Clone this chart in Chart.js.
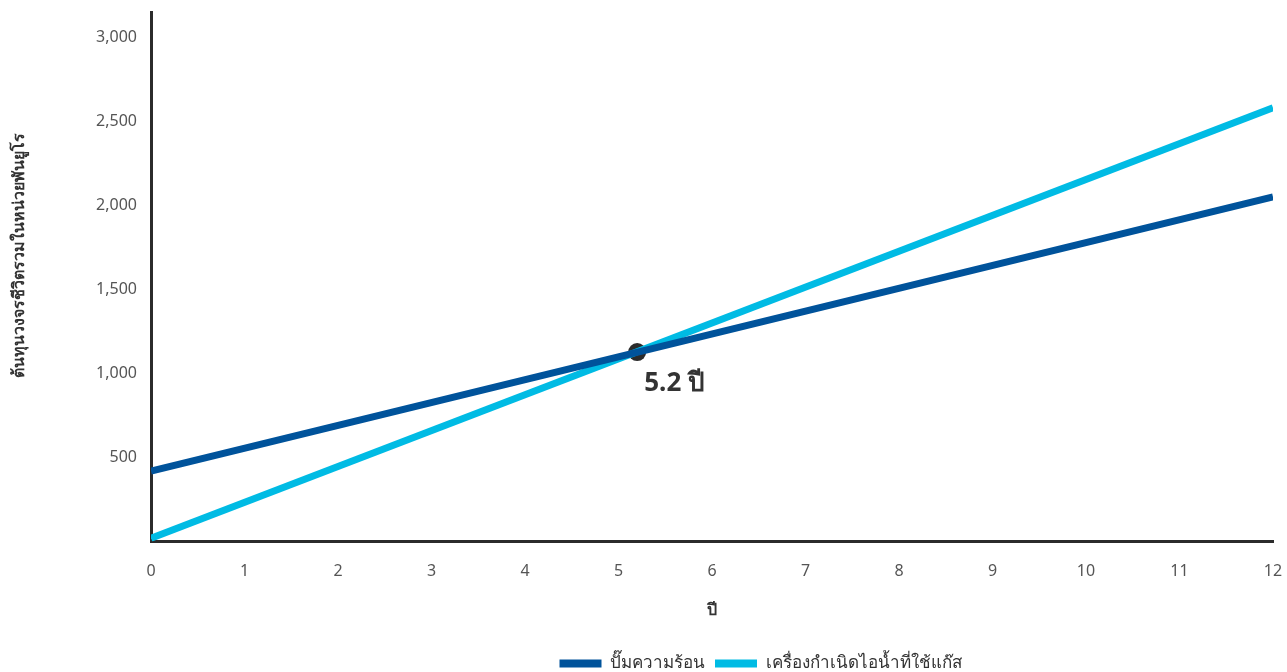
<!DOCTYPE html>
<html lang="th">
<head>
<meta charset="utf-8">
<title>ต้นทุนวงจรชีวิตรวม</title>
<script src="https://cdn.jsdelivr.net/npm/chart.js@4.4.1/dist/chart.umd.min.js"></script>
<style>
  html, body { margin: 0; padding: 0; background: #ffffff; }
  #wrap { width: 1287px; height: 672px; position: relative; }
</style>
</head>
<body>
<div id="wrap"><canvas id="chart"></canvas></div>
<script>
// Years shown on the horizontal axis
const years = [0, 12];
// Total life-cycle cost (thousand EUR) at the start and end of the period
const heatPumpCost = [420, 2050];
const gasBoilerCost = [20, 2580];
// Break-even point between the two systems
const breakEvenYear = 5.2;
const breakEvenCost = 1127;
const breakEvenLabel = '5.2 ปี';
// Tick values on the cost axis
const costTicks = [500, 1000, 1500, 2000, 2500, 3000];

const seriesNames = ['ปั๊มความร้อน', 'เครื่องกำเนิดไอน้ำที่ใช้แก๊ส'];
const axisTitles = { x: 'ปี', y: 'ต้นทุนวงจรชีวิตรวมในหน่วยพันยูโร' };

const FONT = "'Noto Sans', 'Open Sans', sans-serif";

const toPoints = (xs, ys) => xs.map((x, i) => ({ x, y: ys[i] }));

// Writes the break-even caption below-right of the marker
const breakEvenCaption = {
  id: 'breakEvenCaption',
  afterDatasetsDraw(chart) {
    const pt = chart.getDatasetMeta(2).data[0];
    if (!pt) return;
    const ctx = chart.ctx;
    ctx.save();
    ctx.font = "bold 26px " + FONT;
    ctx.fillStyle = '#333333';
    ctx.textAlign = 'left';
    ctx.textBaseline = 'middle';
    ctx.fillText(breakEvenLabel, pt.x + 7, pt.y + 31);
    ctx.restore();
  }
};

// Vertical cost-axis title, placed in the left margin
const costAxisTitle = {
  id: 'costAxisTitle',
  afterDraw(chart) {
    const ctx = chart.ctx;
    const area = chart.chartArea;
    ctx.save();
    ctx.translate(19, area.top + (area.bottom - area.top) * 0.459);
    ctx.rotate(-Math.PI / 2);
    ctx.font = "bold 16px " + FONT;
    ctx.fillStyle = '#333333';
    ctx.textAlign = 'center';
    ctx.textBaseline = 'middle';
    ctx.fillText(axisTitles.y, 0, 0);
    ctx.restore();
  }
};

// Moves the legend row right and down so it sits under the right part of the plot
const legendShift = {
  id: 'legendShift',
  afterLayout(chart) {
    const lg = chart.legend;
    if (!lg) return;
    const dx = 124, dy = 10;
    lg.left += dx;
    lg.right += dx;
    lg.top += dy;
    lg.bottom += dy;
  }
};

new Chart(document.getElementById('chart'), {
  type: 'line',
  data: {
    datasets: [
      {
        label: seriesNames[0],
        data: toPoints(years, heatPumpCost),
        borderColor: '#00539b',
        backgroundColor: '#00539b',
        borderWidth: 7,
        pointRadius: 0,
        borderCapStyle: 'butt'
      },
      {
        label: seriesNames[1],
        data: toPoints(years, gasBoilerCost),
        borderColor: '#00bbe4',
        backgroundColor: '#00bbe4',
        borderWidth: 7,
        pointRadius: 0,
        borderCapStyle: 'butt'
      },
      {
        label: 'break-even',
        data: [{ x: breakEvenYear, y: breakEvenCost }],
        showLine: false,
        pointRadius: 9,
        pointBackgroundColor: '#2b2b2b',
        pointBorderColor: '#2b2b2b',
        pointBorderWidth: 0
      }
    ]
  },
  options: {
    responsive: true,
    maintainAspectRatio: false,
    animation: false,
    layout: { padding: { top: 12, right: 14, left: 0, bottom: 0 } },
    plugins: {
      legend: {
        position: 'bottom',
        labels: {
          boxWidth: 42,
          boxHeight: 8,
          padding: 10,
          color: '#333333',
          font: { family: FONT, size: 17 },
          generateLabels: (chart) => chart.data.datasets.slice(0, 2).map((ds, i) => ({
            text: ds.label,
            fillStyle: ds.borderColor,
            strokeStyle: ds.borderColor,
            lineWidth: 0,
            fontColor: '#333333',
            hidden: false,
            datasetIndex: i
          }))
        }
      },
      tooltip: { enabled: false }
    },
    scales: {
      x: {
        type: 'linear',
        min: 0,
        max: 12,
        afterFit: (scale) => {
          scale.paddingLeft = 0;
          scale.paddingRight = 0;
        },
        ticks: {
          stepSize: 1,
          padding: 20,
          color: '#555555',
          font: { family: FONT, size: 16 }
        },
        grid: { display: false, drawTicks: false },
        border: { display: true, color: '#2b2b2b', width: 3 },
        title: {
          display: true,
          text: axisTitles.x,
          color: '#333333',
          font: { family: FONT, size: 16, weight: 'bold' },
          padding: { top: 0, bottom: 15 }
        }
      },
      y: {
        type: 'linear',
        min: 0,
        max: 3150,
        afterBuildTicks: (scale) => {
          scale.ticks = costTicks.map(v => ({ value: v }));
        },
        afterFit: (scale) => {
          scale.width = 151;
          scale.paddingTop = 0;
          scale.paddingBottom = 0;
        },
        ticks: {
          padding: 14,
          color: '#555555',
          font: { family: FONT, size: 16 },
          callback: (v) => Number(v).toLocaleString('en-US')
        },
        grid: { display: false, drawTicks: false },
        border: { display: true, color: '#2b2b2b', width: 3 },
        title: { display: false }
      }
    }
  },
  plugins: [breakEvenCaption, costAxisTitle, legendShift]
});
</script>
</body>
</html>
